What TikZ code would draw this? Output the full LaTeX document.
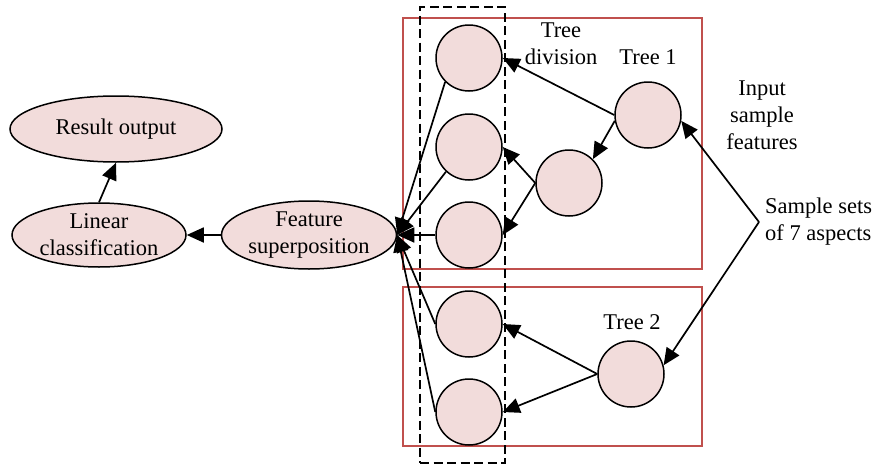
\documentclass[tikz,border=0pt]{standalone}
\usepackage{fontspec}
\setmainfont{Liberation Serif}
\usetikzlibrary{arrows.meta,shapes.geometric}
\definecolor{nodefill}{RGB}{242,220,219}
\definecolor{boxred}{RGB}{192,80,77}
\tikzset{
  every node/.style={font=\fontsize{22.5}{27}\selectfont},
  ell/.style={ellipse, draw=black, line width=1.5pt, fill=nodefill, inner sep=0pt, align=center},
  circ/.style={circle, draw=black, line width=1.5pt, fill=nodefill, minimum size=66pt, inner sep=0pt},
  conn/.style={line width=1.7pt, -{Triangle[length=17pt,width=15pt]}},
  treebox/.style={draw=boxred, line width=1.4pt},
  lbl/.style={align=center, inner sep=0pt},
}
\begin{document}
\begin{tikzpicture}[x=1pt,y=-1pt]
\useasboundingbox (0,0) rectangle (873,466);
% boxes
\node[treebox, minimum width=299pt, minimum height=251pt, inner sep=0pt] (box1) at (552.5,143.5) {};
\node[treebox, minimum width=299pt, minimum height=159pt, inner sep=0pt] (box2) at (552.5,366.5) {};
\node[draw=black, line width=1.5pt, dash pattern=on 9pt off 4.5pt, minimum width=85pt, minimum height=456pt, inner sep=0pt] (dbox) at (462.5,235) {};
% ellipses
\node[ell, minimum width=212pt, minimum height=66pt] (res) at (116,129) {Result output};
\node[ell, minimum width=174pt, minimum height=64pt] (lin) at (99,235) {Linear\\classification};
\node[ell, minimum width=175pt, minimum height=68pt] (fs) at (309,235) {Feature\\superposition};
% circles
\node[circ] (c1) at (469,58) {};
\node[circ] (c2) at (469,147) {};
\node[circ] (c3) at (469,235) {};
\node[circ] (c4) at (469,324) {};
\node[circ] (c5) at (469,412) {};
\node[circ] (m) at (569,183) {};
\node[circ] (r1) at (648,115) {};
\node[circ] (r2) at (631,374) {};
% labels
\node[lbl] (tdiv) at (561,44) {Tree\\division};
\node[lbl] (t1) at (648,57) {Tree 1};
\node[lbl] (t2) at (632,322) {Tree 2};
\node[lbl] (isf) at (762,115) {Input\\sample\\features};
\node[lbl, anchor=west, align=left] (ss) at (759,222) {\hspace*{6pt}Sample sets\\\hspace*{6pt}of 7 aspects};
% connectors
\draw[conn] (lin.north) -- (res.south);
\draw[conn] (fs.west) -- (lin.east);
\draw[conn] (c1.225) -- (fs.east);
\draw[conn] (c2.227) -- (fs.east);
\draw[conn] (c3.west) -- (fs.east);
\draw[conn] (c4.west) -- (fs.east);
\draw[conn] (c5.west) -- (fs.east);
\draw[conn] (r1.west) -- (c1.east);
\draw[conn] (r1.190) -- (m.45);
\draw[conn] (m.west) -- (c2.east);
\draw[conn] (m.west) -- (c3.east);
\draw[conn] (r2.west) -- (c4.east);
\draw[conn] (r2.west) -- (c5.east);
\draw[conn] (ss.west) -- (r1.-10);
\draw[conn] (ss.west) -- (r2.15);
\end{tikzpicture}
\end{document}
